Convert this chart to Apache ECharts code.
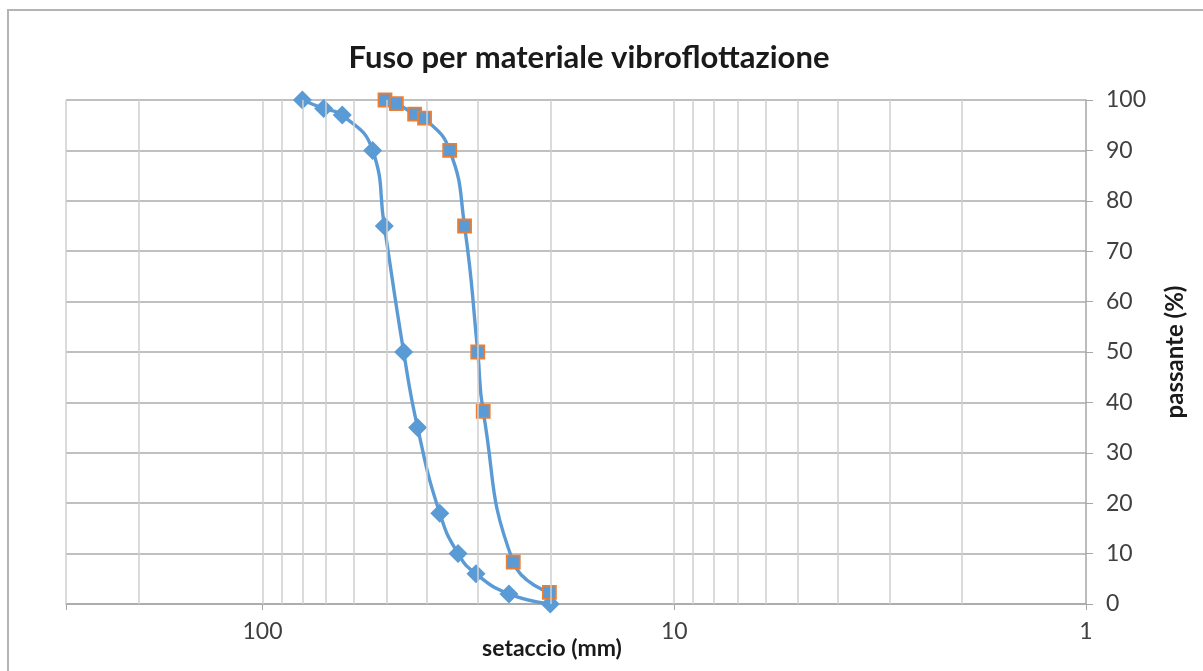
<!DOCTYPE html>
<html>
<head>
<meta charset="utf-8">
<title>Fuso per materiale vibroflottazione</title>
<script src="https://cdn.jsdelivr.net/npm/echarts@6/dist/echarts.min.js"></script>
<style>
  html, body { margin: 0; padding: 0; background: #ffffff; }
  #chart { width: 1203px; height: 671px; }
</style>
</head>
<body>
<div id="chart"></div>
<script>
// Curva granulometrica: limite grossolano (rombi) e limite fine (quadrati)
const coarseSize = [80, 71, 64, 54, 50.6, 45.4, 42, 37.1, 33.5, 30.3, 25.2, 20];
const coarsePass = [100, 98.3, 97, 90, 75, 50, 35, 18, 10, 6, 2, 0];

const fineSize = [50.4, 47.3, 42.7, 40.4, 35.1, 32.3, 30, 29.1, 24.6, 20.1];
const finePass = [100, 99.3, 97.2, 96.4, 90, 75, 50, 38.2, 8.3, 2.3];

// Aperture setacci: linee verticali della griglia logaritmica
const sieveGrid = [300, 200, 100, 90, 80, 70, 60, 50, 40, 30, 20, 10, 9, 8, 7, 6, 5, 4, 3, 2];
const xTickLabels = [100, 10, 1];

const FONT = 'Lato, "Open Sans", sans-serif';
const BLUE = '#5b9bd5';
const ORANGE = '#ed7d31';

const pairs = (xs, ys) => xs.map((x, i) => [x, ys[i]]);

const chart = echarts.init(document.getElementById('chart'), null, { renderer: 'canvas' });

chart.setOption({
  animation: false,
  backgroundColor: '#ffffff',
  textStyle: { fontFamily: FONT },
  title: {
    text: 'Fuso per materiale vibroflottazione',
    left: 584,
    top: 37,
    textAlign: 'center',
    textStyle: { fontFamily: FONT, fontWeight: 'bold', fontSize: 31, color: '#1a1a1a' }
  },
  graphic: [{
    type: 'rect',
    shape: { x: 8, y: 10, width: 1400, height: 900 },
    style: { fill: 'none', stroke: '#b4b4b4', lineWidth: 2 },
    silent: true,
    z: -10
  }],
  grid: { left: 66, right: 117, top: 100, bottom: 67, outerBoundsMode: 'none', containLabel: false },
  xAxis: {
    type: 'log',
    logBase: 10,
    min: 1,
    max: 300,
    inverse: true,
    name: 'setaccio (mm)',
    nameLocation: 'middle',
    nameGap: 33,
    nameMoveOverlap: false,
    nameTextStyle: { fontFamily: FONT, fontWeight: 'bold', fontSize: 23, color: '#1a1a1a', padding: [0, 48, 0, 0] },
    axisLine: { show: true, lineStyle: { color: '#a6a6a6', width: 1.5 } },
    axisTick: { show: true, length: 6, lineStyle: { color: '#a6a6a6' } },
    splitLine: { show: false },
    axisLabel: {
      margin: 16,
      fontSize: 23,
      color: '#404040',
      fontFamily: FONT,
      formatter: v => (xTickLabels.indexOf(Math.round(v * 1000) / 1000) >= 0 ? String(Math.round(v)) : '')
    }
  },
  yAxis: {
    type: 'value',
    position: 'right',
    min: 0,
    max: 100,
    interval: 10,
    name: 'passante (%)',
    nameLocation: 'middle',
    nameRotate: 90,
    nameGap: 77,
    nameMoveOverlap: false,
    nameTextStyle: { fontFamily: FONT, fontWeight: 'bold', fontSize: 24, color: '#1a1a1a' },
    axisLine: { show: true, lineStyle: { color: '#a6a6a6', width: 1.5 } },
    axisTick: { show: true, length: 7, lineStyle: { color: '#a6a6a6' } },
    splitLine: { show: true, lineStyle: { color: '#ababab', width: 1.5 } },
    axisLabel: { margin: 20, fontSize: 23, color: '#404040', fontFamily: FONT }
  },
  series: [
    {
      name: 'griglia',
      type: 'line',
      data: [],
      z: 1,
      silent: true,
      markLine: {
        silent: true,
        symbol: ['none', 'none'],
        label: { show: false },
        emphasis: { disabled: true },
        lineStyle: { color: '#cfcfcf', type: 'solid', width: 1.5 },
        data: sieveGrid.map(v => ({ xAxis: v }))
      }
    },
    {
      name: 'limite grossolano',
      type: 'line',
      z: 3,
      data: pairs(coarseSize, coarsePass),
      smooth: 0.5,
      symbol: 'diamond',
      symbolSize: 19,
      lineStyle: { color: BLUE, width: 3.4 },
      itemStyle: { color: BLUE, borderColor: BLUE, borderWidth: 0 }
    },
    {
      name: 'limite fine',
      type: 'line',
      z: 4,
      data: pairs(fineSize, finePass),
      smooth: 0.5,
      symbol: 'rect',
      symbolSize: 13,
      lineStyle: { color: BLUE, width: 3.4 },
      itemStyle: { color: BLUE, borderColor: ORANGE, borderWidth: 1.8 }
    }
  ]
});
</script>
</body>
</html>
